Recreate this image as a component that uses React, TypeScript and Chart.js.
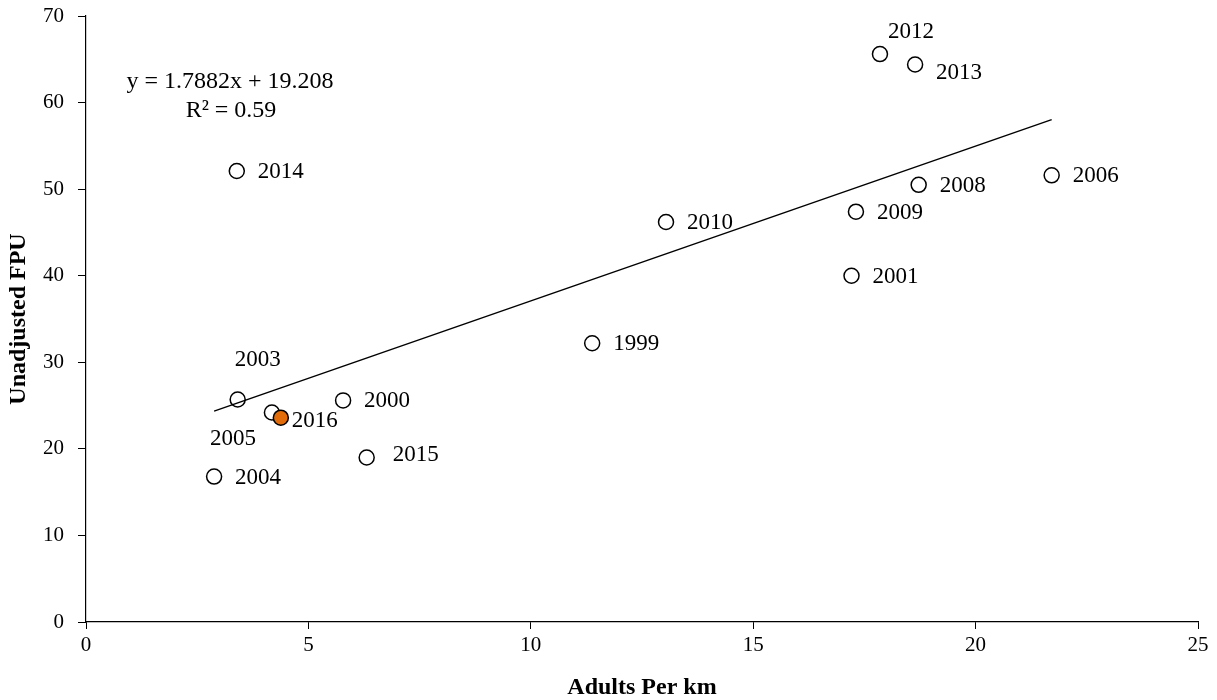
import React, { useEffect, useRef } from "react";
import { Chart, registerables } from "chart.js";

Chart.register(...registerables);

// ---- data ----
const years = ["1999", "2000", "2001", "2003", "2004", "2005", "2006", "2008", "2009", "2010", "2012", "2013", "2014", "2015", "2016"];
const adultsPerKm = [11.38, 5.78, 17.21, 3.41, 2.88, 4.18, 21.71, 18.72, 17.31, 13.04, 17.85, 18.64, 3.39, 6.31, 4.38];
const unadjustedFpu = [32.2, 25.6, 40.0, 25.7, 16.8, 24.2, 51.6, 50.5, 47.4, 46.2, 65.6, 64.4, 52.1, 19.0, 23.6];
const highlightYear = "2016";
const trendSlope = 1.7882;
const trendIntercept = 19.208;
const equationLines = ["y = 1.7882x + 19.208", "R² = 0.59"];
const xTitle = "Adults Per km";
const yTitle = "Unadjusted FPU";

// ---- label placement (style) ----
type Place = { align: CanvasTextAlign; dx: number; dy: number };
const defaultPlace: Place = { align: "left", dx: 21, dy: 1 };
const labelPlace: Record<string, Place> = {
  "2003": { align: "center", dx: 20, dy: -40 },
  "2005": { align: "center", dx: -39, dy: 26 },
  "2012": { align: "center", dx: 31, dy: -22 },
  "2013": { align: "left", dx: 21, dy: 8 },
  "2016": { align: "left", dx: 11, dy: 3 },
  "2015": { align: "left", dx: 26, dy: -3 },
};

const FONT = "'Liberation Serif', 'DejaVu Serif', serif";

export default function App() {
  const ref = useRef<HTMLCanvasElement | null>(null);

  useEffect(() => {
    if (!ref.current) return;
    const points = adultsPerKm.map((x, i) => ({ x, y: unadjustedFpu[i] }));
    const xMin = Math.min(...adultsPerKm);
    const xMax = Math.max(...adultsPerKm);
    const trend = [
      { x: xMin, y: trendSlope * xMin + trendIntercept },
      { x: xMax, y: trendSlope * xMax + trendIntercept },
    ];

    const labelPlugin = {
      id: "pointLabels",
      afterDatasetsDraw(chart: any) {
        const ctx = chart.ctx;
        const meta = chart.getDatasetMeta(1);
        ctx.save();
        ctx.fillStyle = "#000";
        ctx.font = `23px ${FONT}`;
        ctx.textBaseline = "middle";
        meta.data.forEach((el: any, i: number) => {
          const p = labelPlace[years[i]] || defaultPlace;
          ctx.textAlign = p.align;
          ctx.fillText(years[i], el.x + p.dx, el.y + p.dy);
        });
        // equation
        const area = chart.chartArea;
        ctx.font = `24px ${FONT}`;
        ctx.textAlign = "center";
        ctx.fillText(equationLines[0], area.left + 144, area.top + 66);
        ctx.fillText(equationLines[1], area.left + 145, area.top + 95);
        ctx.restore();
      },
    };

    const chart = new Chart(ref.current, {
      type: "scatter",
      data: {
        datasets: [
          {
            label: "trend",
            data: trend,
            showLine: true,
            borderColor: "#000",
            borderWidth: 1.5,
            pointRadius: 0,
            pointHoverRadius: 0,
          },
          {
            label: "FPU",
            data: points,
            pointRadius: 7.5,
            pointBorderWidth: 1.5,
            pointBorderColor: "#000",
            pointBackgroundColor: years.map((y) => (y === highlightYear ? "#E36C0A" : "#fff")),
          },
        ],
      },
      options: {
        responsive: false,
        animation: false,
        layout: { padding: { top: 16, right: 19, left: 0, bottom: 0 } },
        plugins: { legend: { display: false }, tooltip: { enabled: false } },
        scales: {
          x: {
            type: "linear",
            min: 0,
            max: 25,
            ticks: { stepSize: 5, color: "#000", font: { family: FONT, size: 21 }, padding: 4 },
            grid: { drawOnChartArea: false, drawTicks: true, tickLength: 7, color: "#000" },
            border: { display: true, color: "#000", width: 1.2 },
            title: { display: true, text: xTitle, color: "#000", font: { family: FONT, size: 24, weight: "bold" }, padding: { top: 0, bottom: -2 } },
            afterFit: (s: any) => { s.height = 78; s.paddingLeft = 0; s.paddingRight = 0; },
          },
          y: {
            type: "linear",
            min: 0,
            max: 70,
            ticks: { stepSize: 10, color: "#000", font: { family: FONT, size: 21 }, padding: 14 },
            grid: { drawOnChartArea: false, drawTicks: true, tickLength: 8, color: "#000" },
            border: { display: true, color: "#000", width: 1.2 },
            title: { display: true, text: yTitle, color: "#000", font: { family: FONT, size: 24, weight: "bold" }, padding: { top: 4, bottom: 0 } },
            afterFit: (s: any) => { s.width = 86; s.paddingTop = 0; s.paddingBottom = 0; },
          },
        },
      },
      plugins: [labelPlugin],
    } as any);
    return () => chart.destroy();
  }, []);

  return (
    <div style={{ position: "fixed", left: 0, top: 0, width: 1217, height: 700, background: "#fff" }}>
      <canvas ref={ref} width={1217} height={700} />
    </div>
  );
}
